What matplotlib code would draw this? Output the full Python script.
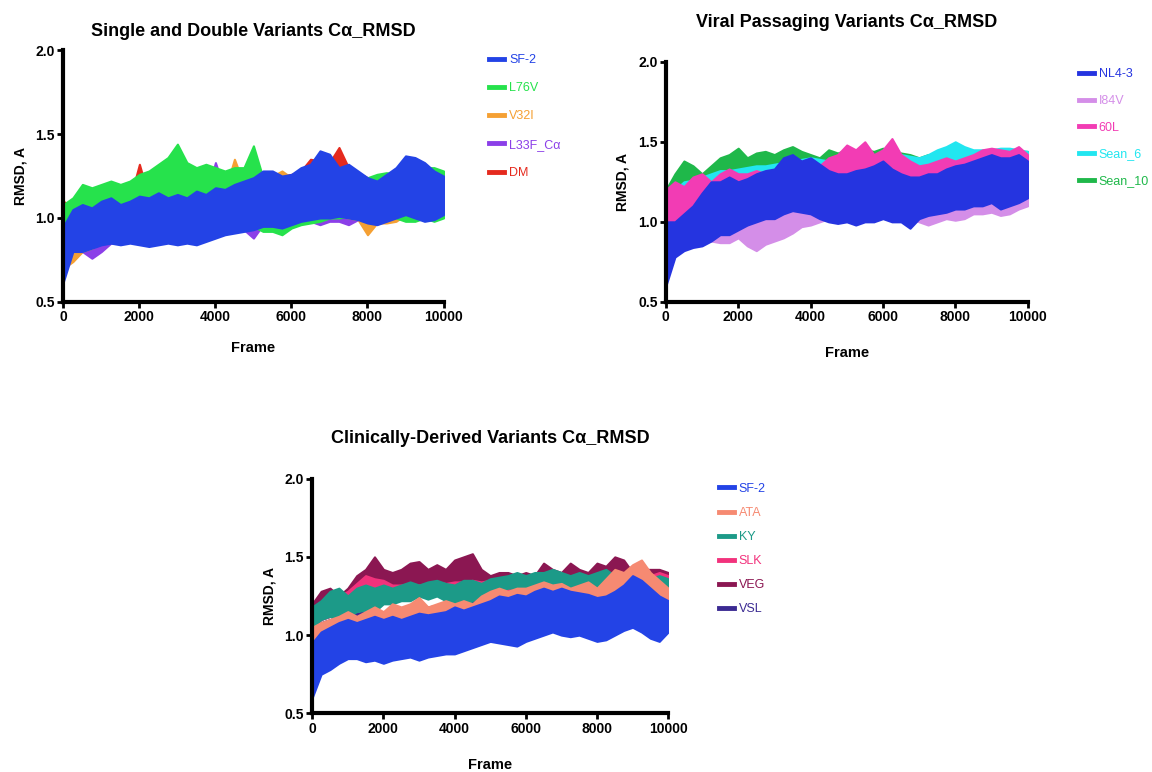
import numpy as np
import matplotlib
matplotlib.use("Agg")
import matplotlib.pyplot as plt

plt.rcParams['font.family'] = ['Liberation Sans', 'DejaVu Sans']

# frames sampled every 250 (0 .. 10000)
frames = np.arange(0, 10001, 250)

# ---- Single and Double Variants: low / high envelope of each trace
sd_labels = ['SF-2', 'L76V', 'V32I', 'L33F_Cα', 'DM']
sd_colors = ['#2343e6', '#26e24c', '#f5a033', '#8b3fe8', '#e52a1e']
sd_lo = [
    [0.62, 0.80, 0.80, 0.82, 0.84, 0.85, 0.84, 0.85, 0.84, 0.83, 0.84, 0.85, 0.84, 0.85, 0.84, 0.86, 0.88, 0.90, 0.91, 0.92, 0.93,
     0.95, 0.95, 0.94, 0.96, 0.98, 0.99, 1.00, 1.00, 1.01, 1.00, 0.99, 0.97, 0.96, 0.98, 1.00, 1.02, 1.00, 0.98, 0.99, 1.02],
    [0.95, 0.98, 1.00, 0.98, 1.00, 0.98, 0.97, 0.98, 1.00, 1.02, 1.05, 1.04, 1.02, 1.00, 1.02, 1.00, 1.02, 0.98, 0.98, 1.00, 0.95,
     0.92, 0.92, 0.90, 0.94, 0.96, 0.97, 0.98, 1.00, 1.00, 1.01, 1.00, 1.02, 1.00, 1.00, 1.00, 0.98, 0.98, 1.00, 0.98, 1.00],
    [0.70, 0.74, 0.80, 0.82, 0.85, 0.86, 0.85, 0.86, 0.85, 0.85, 0.86, 0.87, 0.86, 0.87, 0.86, 0.88, 0.90, 0.92, 0.92, 0.94, 0.95,
     0.96, 0.96, 0.95, 0.97, 0.99, 1.00, 1.00, 1.01, 1.01, 1.00, 0.99, 0.90, 0.97, 0.97, 0.98, 1.02, 1.01, 0.99, 1.00, 1.02],
    [0.68, 0.79, 0.80, 0.76, 0.80, 0.85, 0.85, 0.86, 0.85, 0.85, 0.86, 0.87, 0.86, 0.86, 0.86, 0.87, 0.89, 0.91, 0.92, 0.93, 0.88,
     0.96, 0.96, 0.95, 0.97, 0.98, 0.98, 0.96, 0.98, 0.98, 0.96, 0.99, 0.98, 0.97, 0.99, 1.00, 1.02, 1.00, 0.99, 1.00, 1.02],
    [0.80, 0.84, 0.85, 0.86, 0.86, 0.87, 0.86, 0.87, 0.86, 0.86, 0.87, 0.88, 0.87, 0.88, 0.87, 0.88, 0.90, 0.92, 0.93, 0.94, 0.95,
     0.97, 0.97, 0.96, 0.98, 1.00, 1.00, 1.01, 1.02, 1.02, 1.01, 1.00, 0.99, 0.98, 1.00, 1.01, 1.03, 1.01, 1.00, 1.00, 1.03],
]
sd_hi = [
    [0.95, 1.05, 1.08, 1.06, 1.10, 1.12, 1.08, 1.10, 1.13, 1.12, 1.15, 1.12, 1.14, 1.12, 1.16, 1.14, 1.18, 1.17, 1.20, 1.22, 1.24,
     1.28, 1.28, 1.25, 1.26, 1.30, 1.32, 1.40, 1.38, 1.30, 1.32, 1.28, 1.24, 1.22, 1.26, 1.30, 1.37, 1.36, 1.33, 1.28, 1.25],
    [1.08, 1.12, 1.20, 1.18, 1.20, 1.22, 1.20, 1.22, 1.26, 1.28, 1.32, 1.36, 1.44, 1.33, 1.30, 1.32, 1.30, 1.28, 1.30, 1.30, 1.43,
     1.24, 1.22, 1.22, 1.20, 1.22, 1.24, 1.25, 1.24, 1.26, 1.27, 1.25, 1.24, 1.26, 1.27, 1.26, 1.26, 1.28, 1.30, 1.30, 1.28],
    [0.90, 1.00, 1.04, 1.03, 1.06, 1.08, 1.05, 1.07, 1.10, 1.09, 1.12, 1.10, 1.11, 1.10, 1.13, 1.12, 1.15, 1.16, 1.35, 1.20, 1.22,
     1.24, 1.25, 1.28, 1.24, 1.26, 1.28, 1.30, 1.30, 1.27, 1.28, 1.25, 1.22, 1.25, 1.24, 1.26, 1.30, 1.30, 1.30, 1.26, 1.24],
    [0.92, 1.02, 1.05, 1.04, 1.08, 1.10, 1.06, 1.08, 1.10, 1.10, 1.13, 1.10, 1.12, 1.10, 1.14, 1.13, 1.33, 1.16, 1.18, 1.20, 1.22,
     1.25, 1.26, 1.24, 1.25, 1.28, 1.30, 1.32, 1.33, 1.28, 1.30, 1.26, 1.23, 1.22, 1.25, 1.28, 1.32, 1.32, 1.30, 1.26, 1.24],
    [1.10, 1.06, 1.08, 1.07, 1.10, 1.15, 1.09, 1.11, 1.32, 1.12, 1.15, 1.12, 1.14, 1.12, 1.15, 1.14, 1.18, 1.17, 1.20, 1.22, 1.24,
     1.26, 1.27, 1.25, 1.26, 1.28, 1.35, 1.34, 1.33, 1.42, 1.30, 1.27, 1.24, 1.22, 1.25, 1.28, 1.33, 1.33, 1.31, 1.27, 1.25],
]

# ---- Viral Passaging Variants
vp_labels = ['NL4-3', 'I84V', '60L', 'Sean_6', 'Sean_10']
vp_colors = ['#2534e0', '#d48ee8', '#f23cb4', '#22e6f0', '#1fb84a']
vp_lo = [
    [0.60, 0.78, 0.82, 0.84, 0.85, 0.88, 0.92, 0.92, 0.95, 0.98, 1.00, 1.02, 1.02, 1.05, 1.07, 1.06, 1.05, 1.02, 1.00, 0.99, 1.00,
     0.98, 1.00, 1.00, 1.02, 1.00, 1.00, 0.96, 1.02, 1.04, 1.05, 1.06, 1.08, 1.08, 1.10, 1.10, 1.12, 1.08, 1.10, 1.12, 1.15],
    [0.70, 0.80, 0.84, 0.86, 0.92, 0.88, 0.87, 0.87, 0.90, 0.85, 0.82, 0.86, 0.88, 0.90, 0.93, 0.97, 0.98, 1.00, 1.02, 1.04, 1.03,
     1.05, 1.04, 1.02, 1.05, 1.05, 1.03, 1.02, 1.00, 0.98, 1.00, 1.02, 1.01, 1.02, 1.05, 1.05, 1.06, 1.04, 1.05, 1.08, 1.10],
    [0.95, 1.00, 1.05, 1.06, 1.08, 1.05, 1.06, 1.08, 1.05, 1.06, 1.08, 1.08, 1.10, 1.10, 1.12, 1.10, 1.10, 1.08, 1.08, 1.10, 1.12,
     1.15, 1.12, 1.10, 1.12, 1.10, 1.10, 1.08, 1.10, 1.10, 1.12, 1.12, 1.12, 1.14, 1.12, 1.14, 1.14, 1.12, 1.12, 1.14, 1.16],
    [0.95, 1.00, 1.04, 1.05, 1.06, 1.05, 1.05, 1.06, 1.06, 1.08, 1.08, 1.06, 1.05, 1.08, 1.10, 1.10, 1.12, 1.10, 1.12, 1.12, 1.14,
     1.12, 1.12, 1.12, 1.14, 1.12, 1.12, 1.10, 1.12, 1.12, 1.14, 1.14, 1.15, 1.14, 1.14, 1.15, 1.14, 1.12, 1.13, 1.12, 1.15],
    [1.00, 1.05, 1.10, 1.12, 1.15, 1.16, 1.18, 1.18, 1.20, 1.22, 1.24, 1.24, 1.25, 1.25, 1.25, 1.26, 1.25, 1.24, 1.23, 1.22, 1.22,
     1.22, 1.21, 1.20, 1.20, 1.20, 1.19, 1.18, 1.18, 1.17, 1.16, 1.16, 1.15, 1.12, 1.10, 1.07, 1.08, 1.10, 1.12, 1.14, 1.15],
]
vp_hi = [
    [1.00, 1.00, 1.05, 1.10, 1.18, 1.25, 1.25, 1.28, 1.25, 1.27, 1.30, 1.32, 1.33, 1.40, 1.42, 1.38, 1.40, 1.36, 1.32, 1.30, 1.30,
     1.32, 1.33, 1.35, 1.38, 1.33, 1.30, 1.28, 1.28, 1.30, 1.30, 1.33, 1.35, 1.36, 1.38, 1.40, 1.42, 1.40, 1.40, 1.42, 1.38],
    [0.92, 0.98, 1.00, 1.02, 1.05, 1.05, 1.04, 1.05, 1.05, 1.06, 1.08, 1.08, 1.10, 1.12, 1.15, 1.18, 1.20, 1.20, 1.22, 1.22, 1.25,
     1.25, 1.26, 1.26, 1.28, 1.26, 1.25, 1.25, 1.25, 1.26, 1.26, 1.27, 1.28, 1.28, 1.28, 1.30, 1.30, 1.30, 1.30, 1.30, 1.30],
    [1.20, 1.25, 1.22, 1.28, 1.30, 1.25, 1.30, 1.33, 1.30, 1.30, 1.32, 1.30, 1.32, 1.35, 1.38, 1.36, 1.38, 1.35, 1.40, 1.42, 1.48,
     1.45, 1.50, 1.42, 1.45, 1.52, 1.42, 1.38, 1.35, 1.36, 1.38, 1.40, 1.38, 1.40, 1.42, 1.45, 1.46, 1.45, 1.44, 1.47, 1.42],
    [1.15, 1.20, 1.25, 1.26, 1.28, 1.30, 1.32, 1.32, 1.33, 1.34, 1.35, 1.35, 1.36, 1.37, 1.38, 1.39, 1.40, 1.39, 1.38, 1.39, 1.40,
     1.41, 1.42, 1.41, 1.40, 1.41, 1.42, 1.41, 1.40, 1.42, 1.45, 1.47, 1.50, 1.47, 1.45, 1.45, 1.45, 1.46, 1.46, 1.45, 1.44],
    [1.20, 1.30, 1.38, 1.35, 1.30, 1.35, 1.40, 1.42, 1.46, 1.40, 1.43, 1.44, 1.42, 1.45, 1.47, 1.44, 1.42, 1.40, 1.45, 1.43, 1.45,
     1.44, 1.45, 1.44, 1.46, 1.44, 1.43, 1.42, 1.40, 1.42, 1.40, 1.42, 1.40, 1.42, 1.40, 1.42, 1.42, 1.40, 1.42, 1.44, 1.44],
]

# ---- Clinically-Derived Variants
cd_labels = ['SF-2', 'ATA', 'KY', 'SLK', 'VEG', 'VSL']
cd_colors = ['#2343e6', '#f68a72', '#1c9a88', '#f2327c', '#8b1752', '#3b2a92']
cd_lo = [
    [0.60, 0.75, 0.78, 0.82, 0.85, 0.85, 0.83, 0.84, 0.82, 0.84, 0.85, 0.86, 0.84, 0.86, 0.87, 0.88, 0.88, 0.90, 0.92, 0.94, 0.96,
     0.95, 0.94, 0.93, 0.96, 0.98, 1.00, 1.02, 1.00, 0.99, 1.00, 0.98, 0.96, 0.97, 1.00, 1.03, 1.05, 1.02, 0.98, 0.96, 1.02],
    [0.95, 0.96, 0.97, 0.98, 0.98, 0.99, 1.00, 1.00, 1.00, 1.00, 1.00, 1.00, 1.00, 1.01, 1.01, 1.02, 1.02, 1.02, 1.02, 1.02, 1.02,
     1.02, 1.00, 0.98, 1.05, 1.05, 1.05, 1.05, 1.05, 1.05, 1.05, 1.05, 1.05, 1.06, 1.06, 1.07, 1.08, 1.08, 1.09, 1.10, 1.10],
    [1.05, 1.10, 1.12, 1.10, 1.12, 1.15, 1.16, 1.15, 1.20, 1.20, 1.22, 1.22, 1.25, 1.23, 1.25, 1.22, 1.20, 1.18, 1.22, 1.25, 1.28,
     1.28, 1.30, 1.30, 1.30, 1.28, 1.30, 1.30, 1.28, 1.30, 1.28, 1.25, 1.22, 1.25, 1.28, 1.30, 1.30, 1.30, 1.28, 1.30, 1.30],
    [1.05, 1.10, 1.12, 1.14, 1.15, 1.18, 1.18, 1.20, 1.22, 1.24, 1.25, 1.25, 1.26, 1.26, 1.26, 1.26, 1.26, 1.26, 1.27, 1.27, 1.28,
     1.28, 1.28, 1.28, 1.28, 1.28, 1.28, 1.28, 1.28, 1.28, 1.28, 1.28, 1.28, 1.28, 1.28, 1.28, 1.30, 1.30, 1.30, 1.30, 1.30],
    [1.05, 1.10, 1.12, 1.15, 1.20, 1.24, 1.28, 1.29, 1.30, 1.30, 1.30, 1.30, 1.30, 1.31, 1.31, 1.32, 1.32, 1.32, 1.32, 1.31, 1.30,
     1.30, 1.30, 1.30, 1.30, 1.30, 1.30, 1.30, 1.30, 1.30, 1.30, 1.30, 1.30, 1.30, 1.30, 1.30, 1.30, 1.32, 1.35, 1.35, 1.35],
    [0.70, 0.85, 0.88, 0.90, 0.92, 0.92, 0.92, 0.93, 0.92, 0.93, 0.94, 0.95, 0.94, 0.95, 0.96, 0.96, 0.97, 0.98, 0.99, 1.00, 1.01,
     1.00, 1.00, 1.00, 1.02, 1.03, 1.04, 1.05, 1.04, 1.04, 1.04, 1.03, 1.02, 1.02, 1.04, 1.06, 1.08, 1.06, 1.04, 1.03, 1.05],
]
cd_hi = [
    [0.95, 1.02, 1.05, 1.08, 1.10, 1.08, 1.10, 1.12, 1.10, 1.12, 1.10, 1.12, 1.14, 1.13, 1.14, 1.15, 1.18, 1.16, 1.18, 1.20, 1.22,
     1.25, 1.24, 1.26, 1.25, 1.28, 1.30, 1.28, 1.30, 1.28, 1.27, 1.26, 1.24, 1.25, 1.28, 1.32, 1.38, 1.35, 1.30, 1.25, 1.22],
    [1.05, 1.08, 1.10, 1.12, 1.15, 1.12, 1.15, 1.18, 1.15, 1.20, 1.18, 1.20, 1.24, 1.18, 1.20, 1.22, 1.20, 1.22, 1.20, 1.25, 1.28,
     1.30, 1.28, 1.30, 1.30, 1.32, 1.34, 1.32, 1.33, 1.30, 1.32, 1.34, 1.30, 1.36, 1.42, 1.40, 1.45, 1.48, 1.40, 1.35, 1.30],
    [1.18, 1.22, 1.28, 1.30, 1.25, 1.30, 1.32, 1.30, 1.32, 1.30, 1.32, 1.34, 1.32, 1.34, 1.35, 1.33, 1.32, 1.35, 1.35, 1.33, 1.36,
     1.37, 1.38, 1.40, 1.38, 1.40, 1.40, 1.42, 1.40, 1.38, 1.40, 1.38, 1.40, 1.42, 1.38, 1.40, 1.38, 1.35, 1.36, 1.38, 1.36],
    [1.15, 1.20, 1.22, 1.25, 1.28, 1.33, 1.38, 1.36, 1.35, 1.32, 1.32, 1.33, 1.32, 1.33, 1.34, 1.33, 1.34, 1.34, 1.35, 1.34, 1.35,
     1.35, 1.35, 1.36, 1.35, 1.36, 1.36, 1.36, 1.36, 1.36, 1.36, 1.36, 1.36, 1.36, 1.37, 1.37, 1.38, 1.38, 1.38, 1.40, 1.38],
    [1.20, 1.28, 1.30, 1.25, 1.30, 1.38, 1.42, 1.50, 1.42, 1.40, 1.42, 1.46, 1.47, 1.42, 1.45, 1.42, 1.48, 1.50, 1.52, 1.42, 1.38,
     1.40, 1.40, 1.38, 1.40, 1.38, 1.46, 1.42, 1.40, 1.46, 1.42, 1.40, 1.46, 1.44, 1.50, 1.48, 1.40, 1.42, 1.42, 1.42, 1.40],
    [1.00, 1.08, 1.10, 1.12, 1.14, 1.14, 1.15, 1.15, 1.15, 1.16, 1.16, 1.17, 1.18, 1.18, 1.19, 1.20, 1.21, 1.21, 1.22, 1.22, 1.24,
     1.25, 1.25, 1.25, 1.26, 1.27, 1.28, 1.28, 1.28, 1.28, 1.28, 1.27, 1.26, 1.26, 1.28, 1.30, 1.32, 1.31, 1.29, 1.27, 1.26],
]

# title, labels, colours, envelopes, axes rect, legend anchor, legend spacing, title pad, xlabel pad
panels = [
    ('Single and Double Variants Cα_RMSD', sd_labels, sd_colors, sd_lo, sd_hi,
     [0.055, 0.609, 0.330, 0.326], (1.09, 1.03), 1.3, 10, 12),
    ('Viral Passaging Variants Cα_RMSD', vp_labels, vp_colors, vp_lo, vp_hi,
     [0.578, 0.609, 0.314, 0.311], (1.11, 1.02), 1.18, 25, 16),
    ('Clinically-Derived Variants Cα_RMSD', cd_labels, cd_colors, cd_lo, cd_hi,
     [0.271, 0.076, 0.309, 0.304], (1.11, 1.03), 0.97, 26, 16),
]

fig = plt.figure(figsize=(11.52, 7.72), dpi=100)

for title, labels, colors, lo, hi, pos, legpos, lsp, tpad, xpad in panels:
    ax = fig.add_axes(pos)
    # first series sits on top, so draw in reverse
    for k in range(len(labels) - 1, -1, -1):
        ax.fill_between(frames, lo[k], hi[k], color=colors[k], lw=1.5, edgecolor=colors[k])
    handles = [plt.Line2D([], [], color=c, lw=3.5) for c in colors]
    ax.legend(handles, labels, loc='upper left', bbox_to_anchor=legpos, frameon=False,
              fontsize=9, labelcolor=colors, handlelength=1.2, handletextpad=0.4,
              labelspacing=lsp)
    ax.set_xlim(0, 10000)
    ax.set_ylim(0.5, 2.0)
    ax.set_xticks([0, 2000, 4000, 6000, 8000, 10000])
    ax.set_yticks([0.5, 1.0, 1.5, 2.0])
    ax.set_yticklabels(['0.5', '1.0', '1.5', '2.0'])
    for s in ['top', 'right']:
        ax.spines[s].set_visible(False)
    for s in ['left', 'bottom']:
        ax.spines[s].set_linewidth(3)
    ax.tick_params(width=2, length=4, labelsize=10, pad=2)
    for t in ax.get_xticklabels() + ax.get_yticklabels():
        t.set_fontweight('bold')
    ax.set_xlabel('Frame', fontsize=10.5, fontweight='bold', labelpad=xpad)
    ax.set_ylabel('RMSD, A', fontsize=10, fontweight='bold', labelpad=6)
    ax.set_title(title, fontsize=13, fontweight='bold', pad=tpad)

fig.savefig('out.png', dpi=100)
